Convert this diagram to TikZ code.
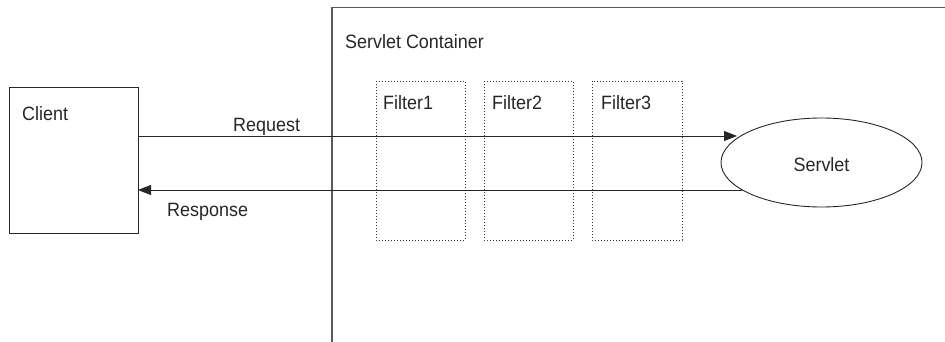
\documentclass[tikz,border=0pt]{standalone}
\usepackage{fontspec}
\setmainfont{Liberation Sans}[FakeStretch=0.93]
\usetikzlibrary{arrows.meta,shapes.geometric}
\begin{document}
\begin{tikzpicture}[x=1pt,y=-1pt,
  every node/.style={font=\fontsize{19.3}{22}\selectfont, text=black!85},
  solidbox/.style={draw=black!85, line width=0.9pt},
  filterbox/.style={draw=black!80, line width=0.9pt, dash pattern=on 0.9pt off 2.1pt},
  conn/.style={draw=black!85, line width=0.9pt, -{Triangle[length=13pt,width=10pt]}},
  lbl/.style={inner sep=0pt, anchor=base west}]
\useasboundingbox (0,0) rectangle (945,342);
% container
\draw[draw=black!65, line width=1.3pt] (332,342) -- (332,7.5) -- (945,7.5);
\node[lbl] (sc) at (345,49) {Servlet Container};
% client
\draw[solidbox] (9,87) rectangle (138,233);
\coordinate (creq) at (138,136);
\coordinate (cres) at (138,190);
\node[lbl] (client) at (22,121) {Client};
% filters
\draw[filterbox] (376,81) rectangle (465,240);
\draw[filterbox] (484,81) rectangle (573,240);
\draw[filterbox] (592,81) rectangle (682,240);
\node[lbl] (f1) at (383,110) {Filter1};
\node[lbl] (f2) at (492,110) {Filter2};
\node[lbl] (f3) at (601,110) {Filter3};
% servlet
\node[ellipse, solidbox, minimum width=201pt, minimum height=89pt, inner sep=0pt] (servlet) at (821.5,162.5) {};
\node[lbl, anchor=base] (stext) at (821.5,171.5) {Servlet};
\coordinate (sreq) at (737,136);
\coordinate (sres) at (742,190);
% connectors
\draw[conn] (creq) -- (sreq);
\draw[conn] (sres) -- (cres);
\node[lbl] (req) at (233,131.5) {Request};
\node[lbl] (res) at (167,216.5) {Response};
\end{tikzpicture}
\end{document}
